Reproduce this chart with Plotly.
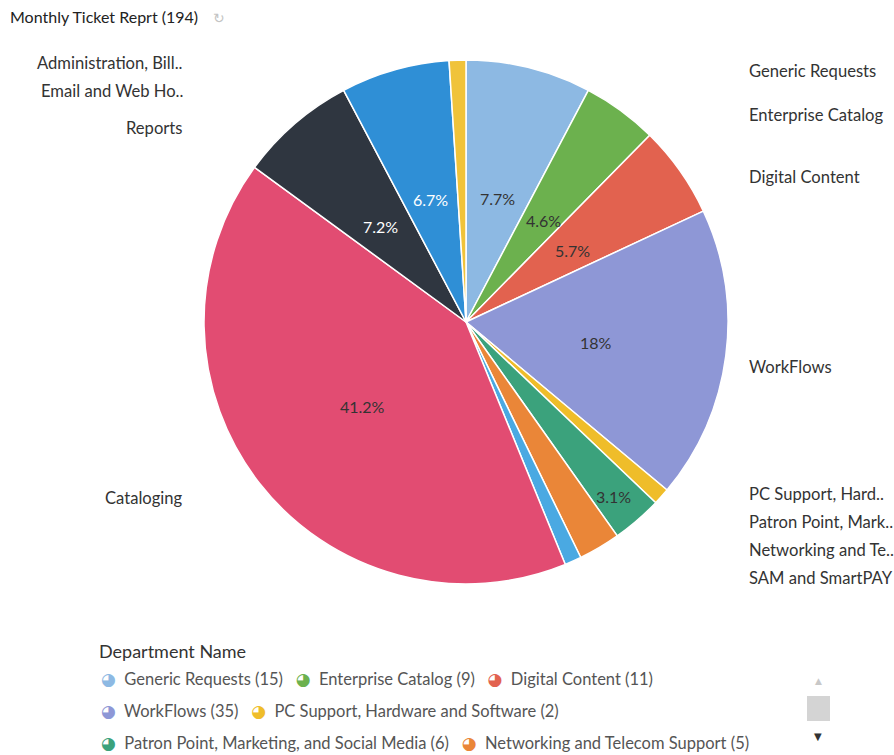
import math
import plotly.graph_objects as go

# ---- data ----
departments = [
    "Generic Requests", "Enterprise Catalog", "Digital Content", "WorkFlows",
    "PC Support, Hardware and Software", "Patron Point, Marketing, and Social Media",
    "Networking and Telecom Support", "SAM and SmartPAY", "Cataloging", "Reports",
    "Email and Web Hosting", "Administration, Billing",
]
short_labels = [
    "Generic Requests", "Enterprise Catalog", "Digital Content", "WorkFlows",
    "PC Support, Hard..", "Patron Point, Mark..", "Networking and Te..",
    "SAM and SmartPAY", "Cataloging", "Reports", "Email and Web Ho..",
    "Administration, Bill..",
]
tickets = [15, 9, 11, 35, 2, 6, 5, 2, 80, 14, 13, 2]
colors = [
    "#8db9e3", "#6cb14e", "#e2624f", "#8e97d6", "#efbd2a", "#3ba27c",
    "#ea8638", "#4aa9e2", "#e24c72", "#2f3640", "#2f8fd6", "#f0c33a",
]
text_colors = ["#333", "#333", "#333", "#333", "#333", "#333",
               "#333", "#333", "#333", "#fff", "#fff", "#333"]
legend_rows = [3, 2, 2]          # entries visible per legend row (rest scrolled)

W, H = 894, 755
total = sum(tickets)

def fmt_pct(v):
    p = round(100 * v / total, 1)
    s = f"{p:.1f}".rstrip("0").rstrip(".")
    return s + "%"

# pie geometry (pixels)
cx, cy, r = 466, 322, 262

def px_x(p):
    return p / W

def px_y(p):
    return 1 - p / H

fig = go.Figure(go.Pie(
    labels=departments,
    values=tickets,
    textinfo="none",
    sort=False,
    direction="clockwise",
    rotation=0,
    marker=dict(colors=colors, line=dict(color="white", width=1.5)),
    domain=dict(x=[px_x(cx - r), px_x(cx + r)], y=[px_y(cy + r), px_y(cy - r)]),
    hoverinfo="label+value+percent",
    showlegend=False,
))

annotations = []

# slice percentages and outside labels, positioned from slice mid-angles
cum = 0
right, left = [], []
for name, v, tc in zip(short_labels, tickets, text_colors):
    mid = (cum + v / 2) / total * 2 * math.pi
    cum += v
    share = v / total
    if share >= 0.03:
        rho = r * (0.5 if share >= 0.04 else 0.86)
        annotations.append(dict(
            x=px_x(cx + rho * math.sin(mid)), y=px_y(cy + 4 - rho * math.cos(mid)),
            xref="paper", yref="paper", text=fmt_pct(v), showarrow=False,
            xanchor="center", yanchor="middle",
            font=dict(family="Lato", size=16, color=tc)))
    y = cy + 10 - 269 * math.cos(mid)
    (right if math.sin(mid) >= 0 else left).append([y, name])

gap, ymax = 28, 578
for side in (right, left):
    side.sort()
    for i in range(1, len(side)):
        side[i][0] = max(side[i][0], side[i - 1][0] + gap)
    if side and side[-1][0] > ymax:
        side[-1][0] = ymax
    for i in range(len(side) - 2, -1, -1):
        side[i][0] = min(side[i][0], side[i + 1][0] - gap)

label_font = dict(family="Lato", size=16.6, color="#333")
for y, name in right:
    annotations.append(dict(x=px_x(747), y=px_y(y), xref="paper", yref="paper",
                            text=name, showarrow=False, xanchor="left", yanchor="middle",
                            font=label_font))
for y, name in left:
    annotations.append(dict(x=px_x(185), y=px_y(y), xref="paper", yref="paper",
                            text=name, showarrow=False, xanchor="right", yanchor="middle",
                            font=label_font))

# title
annotations.append(dict(x=px_x(8), y=px_y(17), xref="paper", yref="paper",
                        text=f"Monthly Ticket Reprt ({total})", showarrow=False,
                        xanchor="left", yanchor="middle",
                        font=dict(family="Lato", size=16, color="#222")))
annotations.append(dict(x=px_x(211), y=px_y(18), xref="paper", yref="paper",
                        text="↻", showarrow=False, xanchor="left", yanchor="middle",
                        font=dict(family="DejaVu Sans", size=14, color="#c4c4c4")))

# legend (custom, with pie icons)
annotations.append(dict(x=px_x(97), y=px_y(651), xref="paper", yref="paper",
                        text="Department Name", showarrow=False,
                        xanchor="left", yanchor="middle",
                        font=dict(family="Lato", size=18, color="#333")))
sep = "&nbsp;" * 3
idx = 0
for row, n in enumerate(legend_rows):
    parts = []
    for _ in range(n):
        parts.append(f'<span style="color:{colors[idx]};font-family:DejaVu Sans;'
                     f'font-size:17px">◕</span>&nbsp;&nbsp;'
                     f'{departments[idx]} ({tickets[idx]})')
        idx += 1
    annotations.append(dict(x=px_x(99), y=px_y(679 + 32 * row), xref="paper", yref="paper",
                            text=sep.join(parts), showarrow=False,
                            xanchor="left", yanchor="middle",
                            font=dict(family="Lato", size=16.5, color="#555")))

# legend scroll control
annotations.append(dict(x=px_x(818), y=px_y(681), xref="paper", yref="paper",
                        text="▲", showarrow=False, xanchor="center", yanchor="middle",
                        font=dict(family="DejaVu Sans", size=9, color="#c8c8c8")))
annotations.append(dict(x=px_x(818), y=px_y(736), xref="paper", yref="paper",
                        text="▼", showarrow=False, xanchor="center", yanchor="middle",
                        font=dict(family="DejaVu Sans", size=10, color="#333")))
shapes = [dict(type="rect", xref="paper", yref="paper",
               x0=px_x(807), x1=px_x(830), y0=px_y(721), y1=px_y(696),
               fillcolor="#d4d4d4", line=dict(width=0))]

fig.update_layout(
    width=W, height=H,
    margin=dict(l=0, r=0, t=0, b=0),
    paper_bgcolor="white",
    plot_bgcolor="white",
    annotations=annotations,
    shapes=shapes,
    showlegend=False,
    font=dict(family="Lato"),
)

fig.write_html(
    "out.html",
    config={"displayModeBar": False},
    post_script="document.body.style.margin='0';document.body.style.overflow='hidden';",
)
